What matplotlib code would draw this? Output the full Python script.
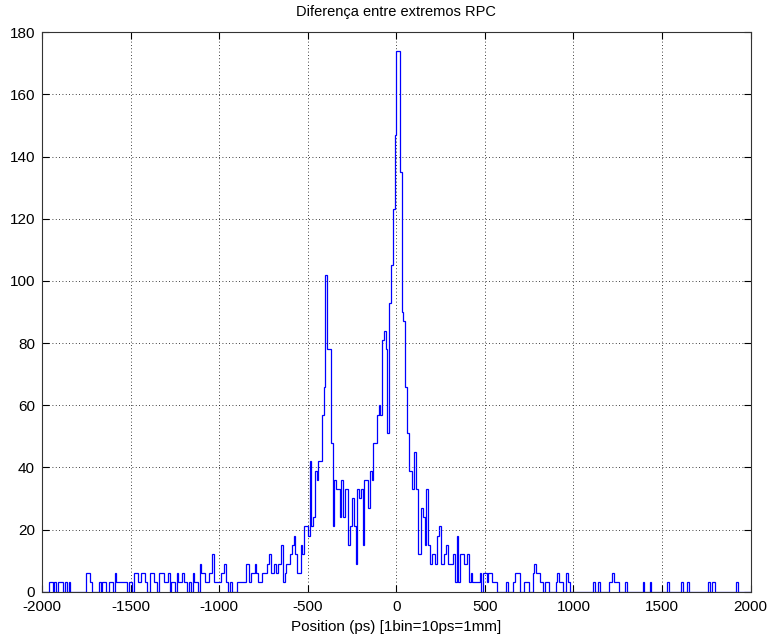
import numpy as np
import matplotlib
matplotlib.use("Agg")
import matplotlib.pyplot as plt

plt.rcParams['font.family'] = ['Liberation Sans', 'DejaVu Sans']
plt.rcParams['axes.unicode_minus'] = False

# Histogram: 10 ps bins from -2000 to 2000 ps, counts
bin_start = -2000
bin_width = 10

counts_m2000_m1510 = [0, 0, 0, 0, 3, 3, 0, 3, 0, 3,
                      3, 3, 0, 3, 0, 3, 0, 0, 0, 0,
                      0, 0, 0, 0, 0, 6, 6, 3, 0, 0,
                      0, 0, 3, 0, 3, 3, 0, 0, 3, 3,
                      0, 6, 3, 3, 3, 3, 3, 3, 0, 3]
counts_m1500_m1010 = [3, 0, 6, 6, 3, 3, 6, 6, 3, 0,
                      0, 6, 6, 3, 3, 0, 6, 6, 6, 3,
                      3, 6, 0, 3, 3, 0, 6, 3, 3, 6,
                      3, 3, 0, 3, 0, 6, 3, 3, 0, 9,
                      6, 6, 3, 3, 6, 6, 12, 3, 3, 3]
counts_m1000_m510 = [3, 6, 6, 9, 3, 0, 3, 0, 0, 0,
                     3, 3, 3, 3, 3, 9, 9, 3, 6, 6,
                     9, 6, 3, 3, 6, 6, 6, 9, 12, 6,
                     6, 9, 6, 9, 9, 15, 3, 6, 9, 9,
                     12, 15, 18, 12, 6, 6, 15, 12, 21, 21]
counts_m500_m10 = [18, 42, 21, 24, 39, 36, 42, 42, 57, 66,
                   102, 78, 78, 48, 21, 36, 33, 33, 24, 36,
                   24, 33, 33, 15, 21, 30, 21, 9, 33, 30,
                   33, 15, 36, 36, 27, 39, 36, 48, 48, 57,
                   60, 57, 81, 84, 78, 51, 93, 105, 123, 147]
counts_0_490 = [174, 174, 135, 90, 87, 66, 51, 39, 39, 33,
                45, 33, 12, 12, 27, 24, 15, 33, 15, 9,
                12, 12, 9, 18, 21, 9, 9, 12, 15, 9,
                9, 9, 12, 3, 18, 3, 12, 12, 9, 9,
                12, 3, 6, 3, 3, 3, 3, 6, 0, 6]
counts_500_990 = [6, 3, 6, 6, 3, 3, 3, 0, 0, 0,
                  0, 0, 3, 0, 0, 0, 3, 6, 6, 6,
                  0, 0, 3, 3, 3, 0, 0, 6, 9, 6,
                  6, 3, 3, 0, 3, 3, 0, 0, 0, 0,
                  3, 6, 3, 3, 0, 0, 6, 3, 0, 0]
counts_1000_1490 = [0, 0, 0, 0, 0, 0, 0, 0, 0, 0,
                    0, 3, 0, 0, 3, 0, 0, 0, 0, 0,
                    3, 3, 6, 3, 3, 3, 0, 0, 0, 3,
                    0, 0, 0, 0, 0, 0, 0, 0, 0, 3,
                    0, 0, 0, 3, 0, 0, 0, 0, 0, 0]
counts_1500_1990 = [0, 0, 0, 3, 0, 0, 0, 0, 0, 0,
                    0, 3, 0, 0, 3, 0, 0, 0, 0, 0,
                    0, 0, 0, 0, 0, 0, 3, 0, 3, 3,
                    0, 0, 0, 0, 0, 0, 0, 0, 0, 0,
                    0, 0, 3, 0, 0, 0, 0, 0, 0, 0]

title_text = "Diferença entre extremos RPC"
xlabel_text = "Position (ps) [1bin=10ps=1mm]"
xticks = [-2000, -1500, -1000, -500, 0, 500, 1000, 1500, 2000]
yticks = [0, 20, 40, 60, 80, 100, 120, 140, 160, 180]

counts = np.array(counts_m2000_m1510 + counts_m1500_m1010 + counts_m1000_m510 +
                  counts_m500_m10 + counts_0_490 + counts_500_990 +
                  counts_1000_1490 + counts_1500_1990, dtype=float)
edges = bin_start + bin_width * np.arange(len(counts) + 1)

fig = plt.figure(figsize=(7.69, 6.37), dpi=100)
ax = fig.add_axes([0.0547, 0.0711, 0.9213, 0.8782])

ax.stairs(counts, edges, color=(0, 0, 1), linewidth=0.9, baseline=None)

ax.set_xlim(-2000, 2000)
ax.set_ylim(0, 180)
ax.set_xticks(xticks)
ax.set_yticks(yticks)
ax.grid(True, linestyle=(0, (1, 3)), color='black', linewidth=0.6)
ax.set_axisbelow(True)
ax.tick_params(direction='in', length=5, width=0.8, labelsize=11, top=True, right=True)
ax.tick_params(axis='x', pad=6)
ax.tick_params(axis='y', pad=5)
for s in ax.spines.values():
    s.set_linewidth(0.8)
    s.set_color('#333333')

ax.set_title(title_text, fontsize=10.5, pad=12)
ax.set_xlabel(xlabel_text, fontsize=11, labelpad=4)

fig.savefig("out.png", dpi=100, facecolor='white')
